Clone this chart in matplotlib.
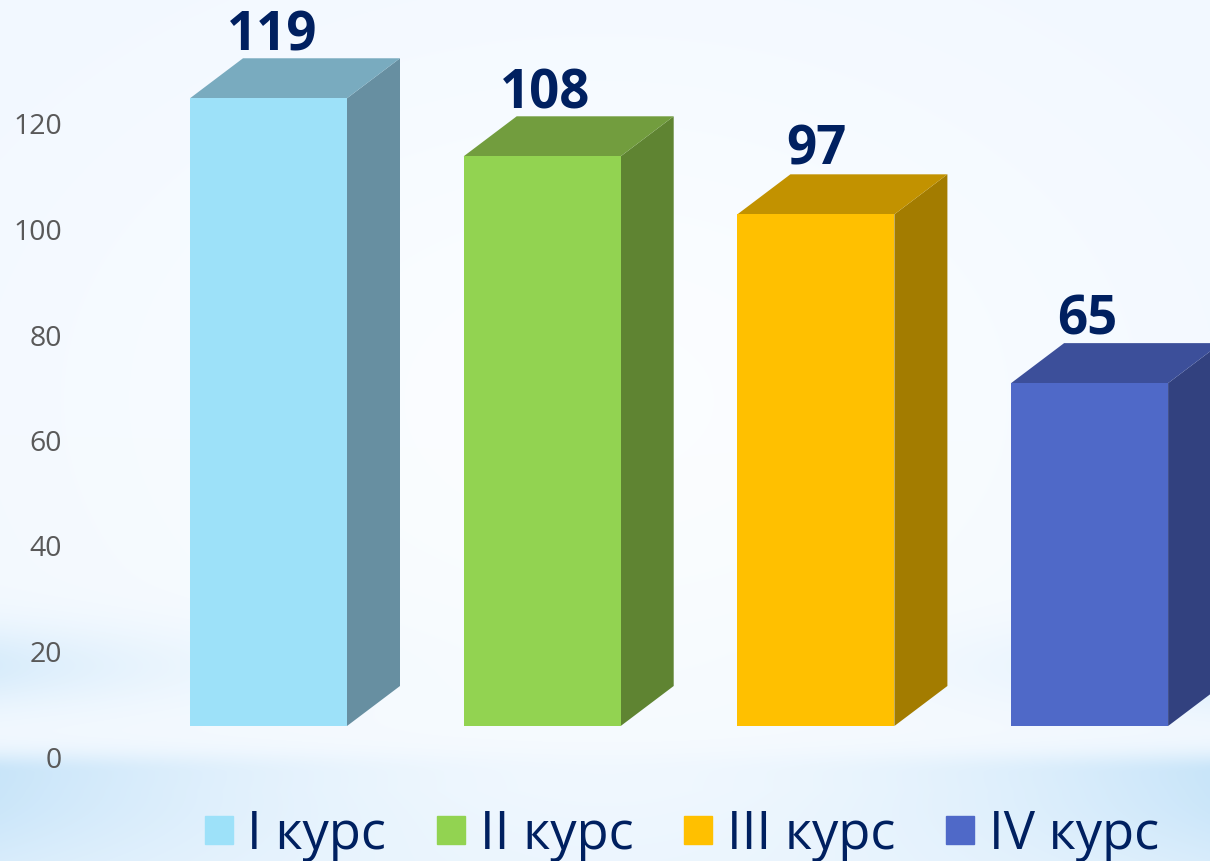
import numpy as np
import matplotlib
matplotlib.use('Agg')
import matplotlib.pyplot as plt
from matplotlib.patches import Patch

categories = ['I курс', 'II курс', 'III курс', 'IV курс']
values = [119, 108, 97, 65]
front_colors = ['#9DE1F9', '#92D351', '#FFC000', '#4F69C8']
side_colors = ['#678FA1', '#5F8432', '#A37C00', '#32417F']
top_colors = ['#79ABBF', '#729D3E', '#C29200', '#3C4F9A']
yticks = [0, 20, 40, 60, 80, 100, 120]

navy = '#002060'
plt.rcParams['font.family'] = ['Open Sans', 'DejaVu Sans']

W, H = 1210, 861
px = 5.275           # pixels per value unit
step = 273.7         # pixels between bars
x0 = 268.5
bar_w = 157 / step
dx = 53 / step       # 3d depth
dy = 40 / px
floor = 31 / px      # front base sits above the axis zero
label_dx = [3.5, 3, 0.5, -2]      # label nudge, pixels
label_dy = [-5, -5, -3, -4.5]

fig = plt.figure(figsize=(W / 100, H / 100), dpi=100)
ax = fig.add_axes([0, 0, 1, 1])
ax.set_xlim(-x0 / step, (W - x0) / step)
ax.set_ylim(-(H - 757) / px, 757 / px)
ax.set_frame_on(False)

# background wash
yy, xx = np.mgrid[0:H, 0:W]
edge = np.abs(xx - W / 2) / (W / 2)
band = np.exp(-((np.clip(yy, None, 772) - 772) / 20.0) ** 2)
band = np.where(yy > 772, np.exp(-((yy - 772) / 110.0) ** 2), band)
band = band * (0.10 + 0.80 * edge ** 2.0)
band2 = np.exp(-((yy - 665) / 40.0) ** 2) * 0.55 * edge ** 3
low = np.clip((yy - 790) / 70.0, 0, 1) * 0.10
glow = np.exp(-(((xx - 600) / 560.0) ** 2 + ((yy - 400) / 380.0) ** 2))
base = np.array([0.945, 0.972, 1.0])
white = np.array([0.985, 0.993, 1.0])
blue = np.array([0.77, 0.89, 0.975])
bg = base + (white - base) * glow[..., None]
mix = np.clip(band + band2 + low, 0, 1)[..., None]
bg = bg + (blue - bg) * mix
ax.imshow(bg, extent=(*ax.get_xlim(), *ax.get_ylim()), aspect='auto', origin='upper', zorder=0)

xpos = np.arange(len(values))
bottoms = np.full(len(values), floor)
ax.bar(xpos, values, bar_w, bottom=bottoms, color=front_colors, zorder=3)

for i, v in enumerate(values):
    l = i - bar_w / 2
    r = i + bar_w / 2
    t = v + floor
    ax.fill([r, r + dx, r + dx, r], [floor, floor + dy, t + dy, t],
            color=side_colors[i], lw=0, zorder=2)
    ax.fill([l, l + dx, r + dx, r], [t, t + dy, t + dy, t],
            color=top_colors[i], lw=0, zorder=2)
    ax.text(i + label_dx[i] / step, t + dy + label_dy[i] / px, str(v), color=navy, fontsize=38,
            fontweight='bold', ha='center', va='bottom', zorder=4)

ax.set_xticks([])
ax.set_yticks(yticks)
ax.tick_params(axis='y', length=0, pad=-44.6, labelsize=20.5, labelcolor='#595959')

handles = [Patch(color=c, label=n) for c, n in zip(front_colors, categories)]
ax.legend(handles=handles, ncol=4, frameon=False, fontsize=37.8, labelcolor=navy,
          loc='lower left', bbox_to_anchor=(205 / W, -0.5 / H), borderpad=0, borderaxespad=0,
          handlelength=0.533, handleheight=0.443, handletextpad=0.275, columnspacing=0.97)

fig.savefig('out.png', dpi=100)
